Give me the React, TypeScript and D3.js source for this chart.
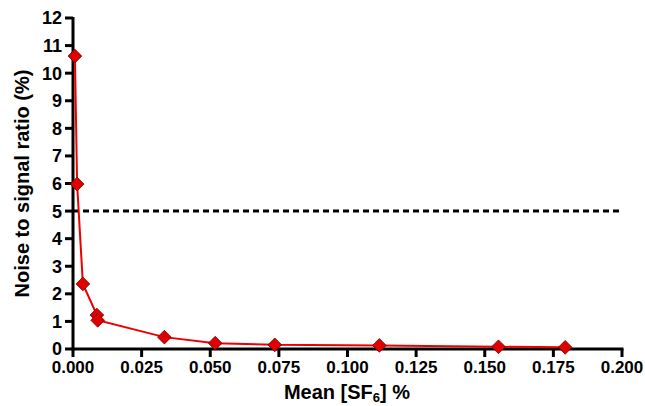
import React from "react";
import * as d3 from "d3";

const xValues = [0.0007, 0.0015, 0.0036, 0.0087, 0.009, 0.0333, 0.0518, 0.0735, 0.1116, 0.155, 0.1793];
const yValues = [10.62, 5.98, 2.36, 1.23, 1.04, 0.43, 0.21, 0.15, 0.13, 0.08, 0.06];
const xTicks = [0, 0.025, 0.05, 0.075, 0.1, 0.125, 0.15, 0.175, 0.2];
const yTicks = [0, 1, 2, 3, 4, 5, 6, 7, 8, 9, 10, 11, 12];
const threshold = 5;

export default function App() {
  const W = 645, H = 406;
  const left = 73, right = 622, top = 18, bottom = 349;
  const x = d3.scaleLinear().domain([0, 0.2]).range([left, right]);
  const y = d3.scaleLinear().domain([0, 12]).range([bottom, top]);
  const pts = xValues.map((v, i) => [v, yValues[i]] as [number, number]);
  const line = d3.line<[number, number]>().x(d => x(d[0])).y(d => y(d[1]));
  const font = "'Liberation Sans', Arial, sans-serif";
  const diamond = d3.symbol().type(d3.symbolDiamond2).size(120)();
  return (
    <svg width={W} height={H} style={{ position: "absolute", left: 0, top: 0, background: "#fff" }} fontFamily={font}>
      <line x1={x(0)} x2={x(0.2)} y1={y(threshold)} y2={y(threshold)} stroke="#000" strokeWidth={3} strokeDasharray="6,4" />
      <line x1={left} x2={left} y1={top - 1} y2={bottom + 1.5} stroke="#000" strokeWidth={3} />
      <line x1={left - 1.5} x2={right + 1.5} y1={bottom} y2={bottom} stroke="#000" strokeWidth={3} />
      {yTicks.map(t => (
        <g key={"y" + t}>
          <line x1={left - 8} x2={left} y1={y(t)} y2={y(t)} stroke="#000" strokeWidth={3} />
          <text x={left - 11} y={y(t)} dy="0.36em" textAnchor="end" fontSize={18} fontWeight="bold">{t}</text>
        </g>
      ))}
      {xTicks.map(t => (
        <g key={"x" + t}>
          <line x1={x(t)} x2={x(t)} y1={bottom} y2={bottom + 8} stroke="#000" strokeWidth={3} />
          <text x={x(t)} y={bottom + 24} textAnchor="middle" fontSize={17} fontWeight="bold">{d3.format(".3f")(t)}</text>
        </g>
      ))}
      <path d={line(pts) || ""} fill="none" stroke="#ee0000" strokeWidth={2} />
      {pts.map((p, i) => (
        <path key={i} d={diamond || ""} transform={`translate(${x(p[0])},${y(p[1])})`} fill="#e00000" stroke="#6a0000" strokeWidth={0.8} />
      ))}
      <text x={347} y={399} textAnchor="middle" fontSize={20} fontWeight="bold">
        Mean [SF<tspan fontSize={13} dy={3}>6</tspan><tspan dy={-3}>] %</tspan>
      </text>
      <text transform={`translate(29,${(top + bottom) / 2}) rotate(-90)`} textAnchor="middle" fontSize={20} fontWeight="bold">
        Noise to signal ratio (%)
      </text>
    </svg>
  );
}
